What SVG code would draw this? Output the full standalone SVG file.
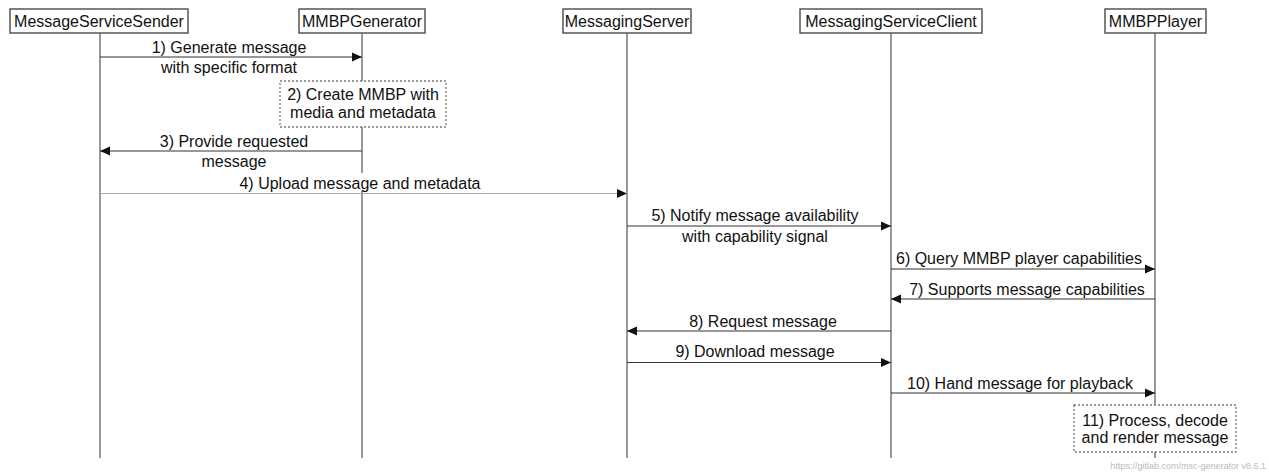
<svg xmlns="http://www.w3.org/2000/svg" width="1269" height="473" viewBox="0 0 1269 473">
<style>
text{font-family:"Liberation Sans",Arial,sans-serif;font-size:16px;fill:#111;text-anchor:middle}
.ent{fill:#fff;stroke:#555;stroke-width:1.5}
.life{stroke:#333;stroke-width:1}
.msg{stroke:#333;stroke-width:1.2;fill:none}
.msg.light{stroke:#aaa}
.note{fill:#fff;stroke:#777;stroke-width:1.3;stroke-dasharray:2 2}
.bg{fill:#fff}
.foot{font-size:9px;fill:#bbb;text-anchor:end}
</style>
<defs>
<marker id="ah" markerUnits="userSpaceOnUse" markerWidth="10" markerHeight="10" refX="10" refY="5" orient="auto">
<path d="M0,0.5 L10,5 L0,9.5 z" fill="#111"/>
</marker>
</defs>
<rect width="1269" height="473" fill="#fff"/>
<g id="lifelines">
<line class="life" x1="100" y1="33" x2="100" y2="458"/>
<line class="life" x1="362" y1="33" x2="362" y2="458"/>
<line class="life" x1="627" y1="33" x2="627" y2="458"/>
<line class="life" x1="891" y1="33" x2="891" y2="458"/>
<line class="life" x1="1155" y1="33" x2="1155" y2="458"/>
</g>
<g id="MessageServiceSender"><rect class="ent" x="10" y="9" width="178" height="24"/><text x="99" y="27">MessageServiceSender</text></g>
<g id="MMBPGenerator"><rect class="ent" x="299" y="9" width="126" height="24"/><text x="362" y="27">MMBPGenerator</text></g>
<g id="MessagingServer"><rect class="ent" x="563" y="9" width="128" height="24"/><text x="627" y="27">MessagingServer</text></g>
<g id="MessagingServiceClient"><rect class="ent" x="800" y="9" width="182" height="24"/><text x="891" y="27">MessagingServiceClient</text></g>
<g id="MMBPPlayer"><rect class="ent" x="1105" y="9" width="101" height="24"/><text x="1155.5" y="27">MMBPPlayer</text></g>
<g id="connectors">
<line class="msg" x1="100" y1="57" x2="362" y2="57" marker-end="url(#ah)"/>
<text x="229" y="53">1) Generate message</text>
<text x="229" y="73">with specific format</text>
<line class="msg" x1="362" y1="151" x2="100" y2="151" marker-end="url(#ah)"/>
<text x="234" y="147">3) Provide requested</text>
<text x="234" y="167">message</text>
<rect class="bg" x="236" y="173" width="248" height="18"/>
<line class="msg light" x1="100" y1="193.5" x2="627" y2="193.5" marker-end="url(#ah)"/>
<text x="360" y="189">4) Upload message and metadata</text>
<line class="msg" x1="627" y1="226" x2="891" y2="226" marker-end="url(#ah)"/>
<text x="755" y="221">5) Notify message availability</text>
<text x="755" y="242">with capability signal</text>
<line class="msg" x1="891" y1="269" x2="1155" y2="269" marker-end="url(#ah)"/>
<text x="1019" y="264">6) Query MMBP player capabilities</text>
<line class="msg" x1="1155" y1="299" x2="891" y2="299" marker-end="url(#ah)"/>
<text x="1027" y="295">7) Supports message capabilities</text>
<line class="msg" x1="891" y1="331" x2="627" y2="331" marker-end="url(#ah)"/>
<text x="763" y="327">8) Request message</text>
<line class="msg" x1="627" y1="362.5" x2="891" y2="362.5" marker-end="url(#ah)"/>
<text x="755" y="357">9) Download message</text>
<line class="msg" x1="891" y1="393" x2="1155" y2="393" marker-end="url(#ah)"/>
<text x="1020" y="389">10) Hand message for playback</text>
</g>
<g id="note2"><rect class="note" x="280" y="81" width="166" height="46"/><text x="363" y="100">2) Create MMBP with</text><text x="363" y="118">media and metadata</text></g>
<g id="note11"><rect class="note" x="1074" y="405" width="162" height="47"/><text x="1155" y="426">11) Process, decode</text><text x="1155" y="443">and render message</text></g>
<text class="foot" x="1266" y="469">https://gitlab.com/msc-generator v8.6.1</text>
</svg>
